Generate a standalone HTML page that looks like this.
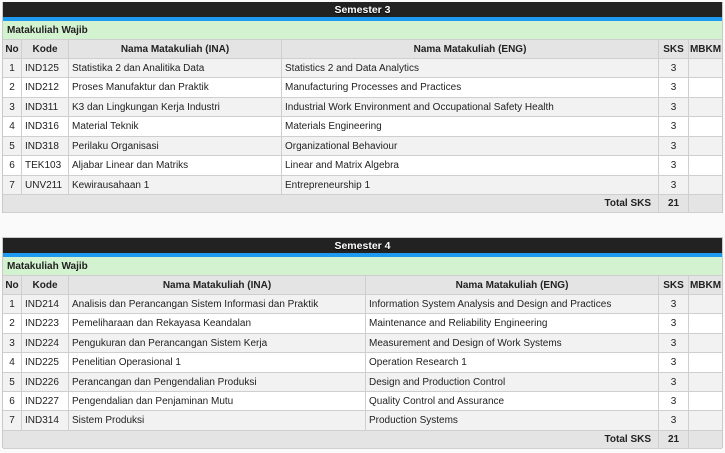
<!DOCTYPE html>
<html><head><meta charset="utf-8">
<style>
html,body{margin:0;padding:0;}
body{width:725px;height:453px;background:#fafafa;position:relative;overflow:hidden;font-family:"Liberation Sans",Arial,sans-serif;font-size:10px;color:#222;}
.t{position:absolute;left:2px;width:721px;border-left:1px solid #c9c9c9;border-right:1px solid #c9c9c9;box-sizing:border-box;}
.r{position:absolute;left:0;width:719px;display:flex;box-sizing:border-box;border-bottom:1px solid #cfcfcf;}
.c{box-sizing:border-box;border-right:1px solid #cfcfcf;height:100%;display:flex;align-items:center;padding:0 3px;white-space:nowrap;overflow:hidden;}
.c:last-child{border-right:none;}
.ctr{justify-content:center;padding:0;}
.dark{position:absolute;left:0;width:719px;background:#222;color:#fff;font-weight:bold;font-size:10.5px;text-align:center;text-shadow:0 1px 1px #000;}
.blue{position:absolute;left:0;width:719px;background:#1e9bf0;}
.green{position:absolute;left:0;width:719px;background:#d3f2cf;font-weight:bold;padding-left:4px;box-sizing:border-box;display:flex;align-items:center;border-bottom:1px solid #cfcfcf;}
.hd{background:#e4e4e4;font-weight:bold;}
.o{background:#f2f2f2;}
.e{background:#fff;}
.tot{background:#e4e4e4;font-weight:bold;}
.w1{width:19px}.w2{width:47px}.w5{width:30px}.w6{width:33px}
.a3{width:213px}.a4{width:377px}
.b3{width:297px}.b4{width:293px}
.lbl{justify-content:flex-end;padding-right:7px;}
</style></head><body>

<!-- TABLE 1 -->
<div class="t" style="top:2px;height:211px;">
  <div class="dark" style="top:0;height:15px;line-height:17px;">Semester 3</div>
  <div class="blue" style="top:15px;height:4px;"></div>
  <div class="green" style="top:19px;height:19px;">Matakuliah Wajib</div>
  <div class="r hd" style="top:38px;height:19px;"><div class="c ctr w1">No</div><div class="c ctr w2">Kode</div><div class="c ctr a3">Nama Matakuliah (INA)</div><div class="c ctr a4">Nama Matakuliah (ENG)</div><div class="c ctr w5">SKS</div><div class="c ctr w6">MBKM</div></div>
  <div class="r o" style="top:57px;height:19px;"><div class="c ctr w1">1</div><div class="c w2">IND125</div><div class="c a3">Statistika 2 dan Analitika Data</div><div class="c a4">Statistics 2 and Data Analytics</div><div class="c ctr w5">3</div><div class="c w6"></div></div>
  <div class="r e" style="top:76px;height:20px;"><div class="c ctr w1">2</div><div class="c w2">IND212</div><div class="c a3">Proses Manufaktur dan Praktik</div><div class="c a4">Manufacturing Processes and Practices</div><div class="c ctr w5">3</div><div class="c w6"></div></div>
  <div class="r o" style="top:96px;height:19px;"><div class="c ctr w1">3</div><div class="c w2">IND311</div><div class="c a3">K3 dan Lingkungan Kerja Industri</div><div class="c a4">Industrial Work Environment and Occupational Safety Health</div><div class="c ctr w5">3</div><div class="c w6"></div></div>
  <div class="r e" style="top:115px;height:20px;"><div class="c ctr w1">4</div><div class="c w2">IND316</div><div class="c a3">Material Teknik</div><div class="c a4">Materials Engineering</div><div class="c ctr w5">3</div><div class="c w6"></div></div>
  <div class="r o" style="top:135px;height:19px;"><div class="c ctr w1">5</div><div class="c w2">IND318</div><div class="c a3">Perilaku Organisasi</div><div class="c a4">Organizational Behaviour</div><div class="c ctr w5">3</div><div class="c w6"></div></div>
  <div class="r e" style="top:154px;height:20px;"><div class="c ctr w1">6</div><div class="c w2">TEK103</div><div class="c a3">Aljabar Linear dan Matriks</div><div class="c a4">Linear and Matrix Algebra</div><div class="c ctr w5">3</div><div class="c w6"></div></div>
  <div class="r o" style="top:174px;height:19px;"><div class="c ctr w1">7</div><div class="c w2">UNV211</div><div class="c a3">Kewirausahaan 1</div><div class="c a4">Entrepreneurship 1</div><div class="c ctr w5">3</div><div class="c w6"></div></div>
  <div class="r tot" style="top:193px;height:18px;"><div class="c lbl" style="width:656px;">Total SKS</div><div class="c ctr w5">21</div><div class="c w6"></div></div>
</div>

<!-- TABLE 2 -->
<div class="t" style="top:237px;height:211px;border-top:1px solid #c9c9c9;">
  <div class="dark" style="top:0;height:15px;line-height:17px;">Semester 4</div>
  <div class="blue" style="top:15px;height:4px;"></div>
  <div class="green" style="top:19px;height:19px;">Matakuliah Wajib</div>
  <div class="r hd" style="top:38px;height:19px;"><div class="c ctr w1">No</div><div class="c ctr w2">Kode</div><div class="c ctr b3">Nama Matakuliah (INA)</div><div class="c ctr b4">Nama Matakuliah (ENG)</div><div class="c ctr w5">SKS</div><div class="c ctr w6">MBKM</div></div>
  <div class="r o" style="top:57px;height:19px;"><div class="c ctr w1">1</div><div class="c w2">IND214</div><div class="c b3">Analisis dan Perancangan Sistem Informasi dan Praktik</div><div class="c b4">Information System Analysis and Design and Practices</div><div class="c ctr w5">3</div><div class="c w6"></div></div>
  <div class="r e" style="top:76px;height:20px;"><div class="c ctr w1">2</div><div class="c w2">IND223</div><div class="c b3">Pemeliharaan dan Rekayasa Keandalan</div><div class="c b4">Maintenance and Reliability Engineering</div><div class="c ctr w5">3</div><div class="c w6"></div></div>
  <div class="r o" style="top:96px;height:19px;"><div class="c ctr w1">3</div><div class="c w2">IND224</div><div class="c b3">Pengukuran dan Perancangan Sistem Kerja</div><div class="c b4">Measurement and Design of Work Systems</div><div class="c ctr w5">3</div><div class="c w6"></div></div>
  <div class="r e" style="top:115px;height:20px;"><div class="c ctr w1">4</div><div class="c w2">IND225</div><div class="c b3">Penelitian Operasional 1</div><div class="c b4">Operation Research 1</div><div class="c ctr w5">3</div><div class="c w6"></div></div>
  <div class="r o" style="top:135px;height:19px;"><div class="c ctr w1">5</div><div class="c w2">IND226</div><div class="c b3">Perancangan dan Pengendalian Produksi</div><div class="c b4">Design and Production Control</div><div class="c ctr w5">3</div><div class="c w6"></div></div>
  <div class="r e" style="top:154px;height:19px;"><div class="c ctr w1">6</div><div class="c w2">IND227</div><div class="c b3">Pengendalian dan Penjaminan Mutu</div><div class="c b4">Quality Control and Assurance</div><div class="c ctr w5">3</div><div class="c w6"></div></div>
  <div class="r o" style="top:173px;height:20px;"><div class="c ctr w1">7</div><div class="c w2">IND314</div><div class="c b3">Sistem Produksi</div><div class="c b4">Production Systems</div><div class="c ctr w5">3</div><div class="c w6"></div></div>
  <div class="r tot" style="top:193px;height:18px;"><div class="c lbl" style="width:656px;">Total SKS</div><div class="c ctr w5">21</div><div class="c w6"></div></div>
</div>

</body></html>
